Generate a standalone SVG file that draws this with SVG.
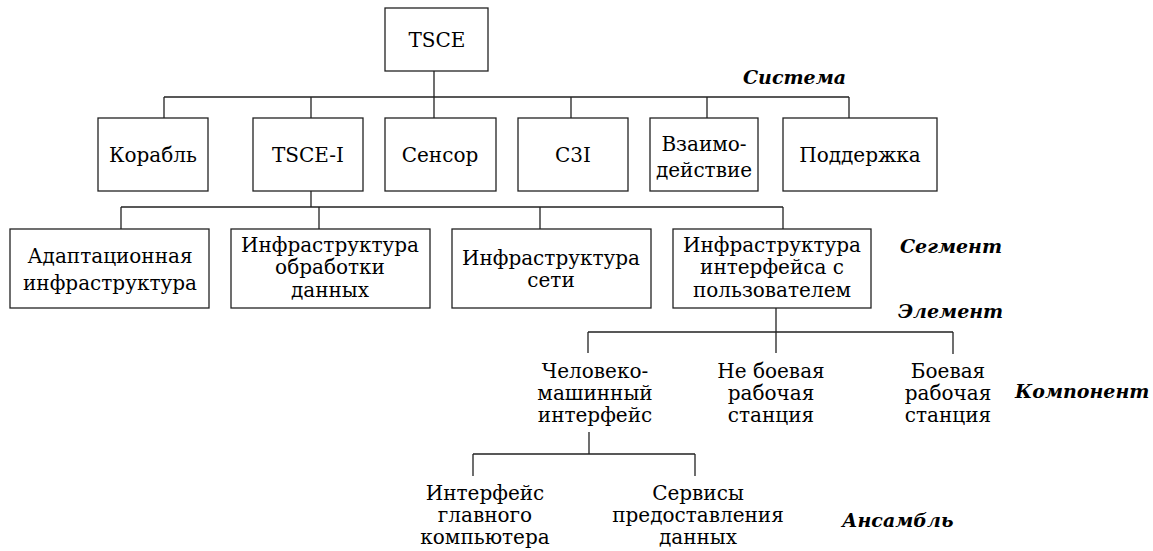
<svg xmlns="http://www.w3.org/2000/svg" width="1153" height="551" viewBox="0 0 1153 551">
<style>
.b{fill:#fff;stroke:#222;stroke-width:1.3}
.c{fill:none;stroke:#222;stroke-width:1.3}
.t{font-size:20px;fill:#000;text-anchor:middle}
.s{font-size:20px;fill:#000;text-anchor:middle}
.l{font-size:19px;font-weight:bold;font-style:italic;fill:#000}
</style>
<rect width="1153" height="551" fill="#fff"/>
<g id="connectors">
<path class="c" d="M434 71V97M164 97H849M164 97V118M311 97V118M434 97V118M571 97V118M707 97V118M849 97V118"/>
<path class="c" d="M311 191V207M121 207H783M121 207V229M319 207V229M540 207V229M783 207V229"/>
<path class="c" d="M776 308V332M588 332H953M588 332V353M776 332V353M953 332V354"/>
<path class="c" d="M589 432V454M473 454H695M473 454V476M695 454V476"/>
</g>
<g font-family="DejaVu Serif, Liberation Serif, serif">
<g id="tsce"><rect class="b" x="385" y="8" width="103" height="63"/><text class="t" x="437" y="47">TSCE</text></g>
<g id="korabl"><rect class="b" x="98" y="118" width="110" height="73"/><text class="t" x="153" y="162">Корабль</text></g>
<g id="tscei"><rect class="b" x="253" y="118" width="110" height="73"/><text class="t" x="308" y="162">TSCE-I</text></g>
<g id="sensor"><rect class="b" x="385" y="118" width="111" height="73"/><text class="t" x="440" y="162">Сенсор</text></g>
<g id="c3i"><rect class="b" x="518" y="118" width="110" height="73"/><text class="t" x="573" y="162">C3I</text></g>
<g id="vzaimo"><rect class="b" x="650" y="118" width="108" height="73"/><text class="t" x="704" y="151">Взаимо-</text><text class="t" x="704" y="177">действие</text></g>
<g id="podderzhka"><rect class="b" x="783" y="118" width="154" height="73"/><text class="t" x="860" y="162">Поддержка</text></g>
<g id="adapt"><rect class="b" x="10" y="229" width="199" height="79"/><text class="t" x="110" y="263">Адаптационная</text><text class="t" x="110" y="290">инфраструктура</text></g>
<g id="obrab"><rect class="b" x="231" y="229" width="199" height="79"/><text class="s" x="330" y="252">Инфраструктура</text><text class="s" x="330" y="274">обработки</text><text class="s" x="330" y="297">данных</text></g>
<g id="seti"><rect class="b" x="452" y="229" width="199" height="79"/><text class="s" x="551" y="265">Инфраструктура</text><text class="s" x="551" y="287">сети</text></g>
<g id="polz"><rect class="b" x="673" y="229" width="198" height="79"/><text class="s" x="772" y="252">Инфраструктура</text><text class="s" x="772" y="274">интерфейса с</text><text class="s" x="772" y="297">пользователем</text></g>
<g id="hmi"><text class="s" x="595" y="378">Человеко-</text><text class="s" x="595" y="400">машинный</text><text class="s" x="595" y="422">интерфейс</text></g>
<g id="neboev"><text class="s" x="771" y="378">Не боевая</text><text class="s" x="771" y="400">рабочая</text><text class="s" x="771" y="422">станция</text></g>
<g id="boev"><text class="s" x="948" y="378">Боевая</text><text class="s" x="948" y="400">рабочая</text><text class="s" x="948" y="422">станция</text></g>
<g id="hostif"><text class="s" x="485" y="500">Интерфейс</text><text class="s" x="485" y="522">главного</text><text class="s" x="485" y="544">компьютера</text></g>
<g id="services"><text class="s" x="698" y="500">Сервисы</text><text class="s" x="698" y="522">предоставления</text><text class="s" x="698" y="544">данных</text></g>
<g id="levels">
<text class="l" x="743" y="84">Система</text>
<text class="l" x="900" y="253">Сегмент</text>
<text class="l" x="898" y="318">Элемент</text>
<text class="l" x="1015" y="398">Компонент</text>
<text class="l" x="842" y="527">Ансамбль</text>
</g>
</g>
</svg>
